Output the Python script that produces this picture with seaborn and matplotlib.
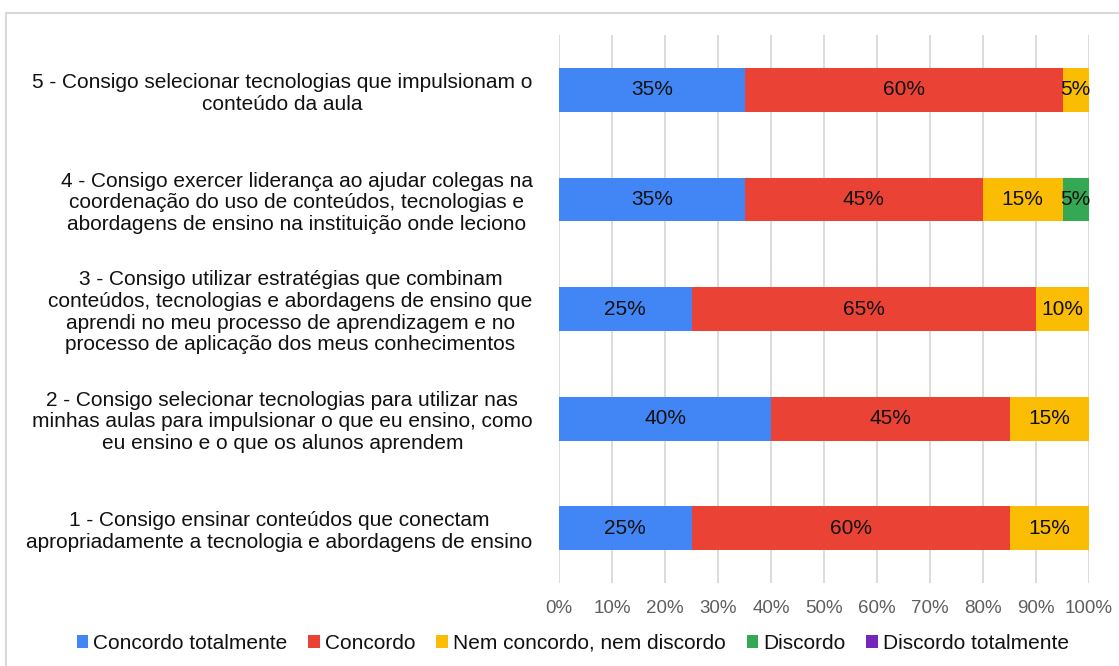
import pandas as pd
import numpy as np
import seaborn as sns
import matplotlib.pyplot as plt
from matplotlib.patches import Patch
from matplotlib.lines import Line2D

sns.set_theme(style="white")
plt.rcParams['font.family'] = ['Liberation Sans', 'DejaVu Sans']

# statements, top to bottom as shown
statements = [
    "5 - Consigo selecionar tecnologias que impulsionam o\nconteúdo da aula",
    "4 - Consigo exercer liderança ao ajudar colegas na\ncoordenação do uso de conteúdos, tecnologias e\nabordagens de ensino na instituição onde leciono",
    "3 - Consigo utilizar estratégias que combinam\nconteúdos, tecnologias e abordagens de ensino que\naprendi no meu processo de aprendizagem e no\nprocesso de aplicação dos meus conhecimentos",
    "2 - Consigo selecionar tecnologias para utilizar nas\nminhas aulas para impulsionar o que eu ensino, como\neu ensino e o que os alunos aprendem",
    "1 - Consigo ensinar conteúdos que conectam\napropriadamente a tecnologia e abordagens de ensino",
]
series = ["Concordo totalmente", "Concordo", "Nem concordo, nem discordo",
          "Discordo", "Discordo totalmente"]
concordo_totalmente = [35, 35, 25, 40, 25]
concordo = [60, 45, 65, 45, 60]
nem_nem = [5, 15, 10, 15, 15]
discordo = [0, 5, 0, 0, 0]
discordo_totalmente = [0, 0, 0, 0, 0]
colors = ["#4285F4", "#EA4335", "#FBBC04", "#34A853", "#7627BB"]

df = pd.DataFrame({"item": statements})
for name, vals in zip(series, [concordo_totalmente, concordo, nem_nem,
                               discordo, discordo_totalmente]):
    df[name] = vals
cum = df[series].cumsum(axis=1)

fig, ax = plt.subplots(figsize=(11.19, 6.66), dpi=100)
fig.subplots_adjust(left=0.4996, right=0.9732, top=0.9474, bottom=0.1246)

# stacked bars: draw cumulative totals from the last series backwards
for name, col in reversed(list(zip(series, colors))):
    sns.barplot(x=cum[name], y=df["item"], color=col, width=0.4, saturation=1,
                linewidth=0, orient="h", ax=ax, zorder=3)

# segment labels
for i, row in df.iterrows():
    for name in series:
        v = row[name]
        if v > 0:
            ax.text(cum.loc[i, name] - v / 2, i, f"{v}%", ha="center",
                    va="center", fontsize=15, color="#111111", zorder=4)

ax.set_xlim(0, 100)
ax.set_ylim(4.5, -0.5)
ax.set_xticks(np.arange(0, 101, 10))
ax.set_xticklabels([f"{t}%" for t in range(0, 101, 10)])
ax.set_xlabel("")
ax.set_ylabel("")
ax.grid(axis="x", color="#d9d9d9", linewidth=1.3, zorder=0)
for s in ax.spines.values():
    s.set_visible(False)
ax.tick_params(axis="x", length=0, pad=12, labelsize=13.5, labelcolor="#5f5f5f")
ax.tick_params(axis="y", length=0, pad=19, labelsize=15, labelcolor="#111111")
for lab in ax.get_yticklabels():
    lab.set_multialignment("center")
    lab.set_linespacing(1.18)

handles = [Patch(facecolor=c, edgecolor="none") for c in colors]
fig.legend(handles, series, loc="center", bbox_to_anchor=(0.512, 0.034),
           ncol=5, frameon=False, fontsize=15, handlelength=0.55,
           handleheight=0.55, handletextpad=0.25, columnspacing=1.0,
           labelcolor="#111111")

# light frame lines from the screenshot
fig.add_artist(Line2D([6 / 1119, 1], [1 - 13 / 666] * 2, transform=fig.transFigure,
                      color="#d9d9d9", linewidth=1.5))
fig.add_artist(Line2D([6 / 1119] * 2, [0, 1 - 13 / 666], transform=fig.transFigure,
                      color="#d9d9d9", linewidth=1.5))

fig.savefig("out.png", dpi=100)
